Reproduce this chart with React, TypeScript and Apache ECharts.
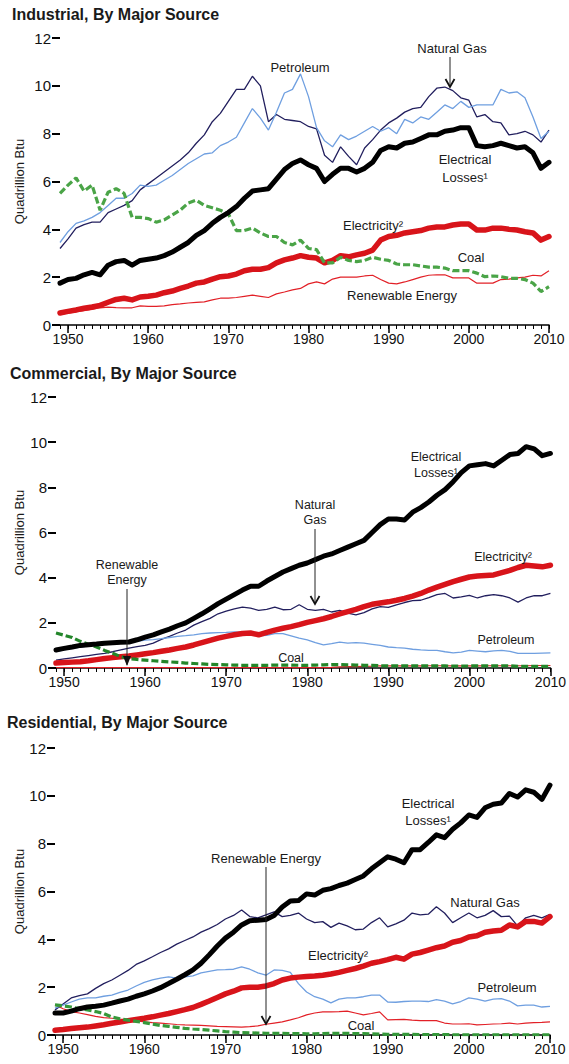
import React, { useEffect, useRef } from "react";
import * as echarts from "echarts";

// ---------- categories ----------
const years: string[] = [];
for (let y = 1949; y <= 2010; y++) years.push(String(y));
const yTicks = [0, 2, 4, 6, 8, 10, 12];

// ---------- Industrial ----------
const indNaturalGas = [
  3.2, 3.6, 4.05, 4.2, 4.3, 4.3, 4.7, 4.85, 5.0, 5.2,
  5.65, 5.9, 6.15, 6.4, 6.65, 6.9, 7.2, 7.6, 7.95, 8.5,
  8.85, 9.35, 9.85, 9.85, 10.4, 10.0, 8.5, 8.8, 8.6, 8.55,
  8.5, 8.3, 8.2, 7.1, 6.8, 7.45, 7.05, 6.7, 7.4, 7.75,
  8.15, 8.45, 8.65, 8.9, 9.05, 9.1, 9.55, 9.9, 9.95, 9.8,
  9.5, 9.4, 8.7, 8.8, 8.5, 8.45, 7.95, 8.0, 8.1, 7.95,
  7.65, 8.15,
];
const indPetroleum = [
  3.45, 3.9, 4.25, 4.35, 4.5, 4.7, 5.0, 5.3, 5.3, 5.5,
  5.85, 5.8, 5.85, 6.05, 6.25, 6.5, 6.75, 6.95, 7.15, 7.2,
  7.5, 7.65, 7.85, 8.45, 9.05, 8.65, 8.15, 8.9, 9.7, 9.85,
  10.5, 9.55, 8.25, 7.7, 7.45, 7.95, 7.75, 7.9, 8.1, 8.3,
  8.1, 8.25, 8.0, 8.6, 8.45, 8.7, 8.6, 8.9, 9.2, 9.05,
  9.35, 9.1, 9.2, 9.2, 9.2, 9.85, 9.7, 9.75, 9.5, 8.7,
  7.8, 8.1,
];
const indLosses = [
  1.75, 1.9, 1.95, 2.1, 2.2, 2.1, 2.5, 2.65, 2.7, 2.5,
  2.7, 2.75, 2.8, 2.9, 3.05, 3.25, 3.45, 3.75, 3.95, 4.25,
  4.5, 4.7, 4.95, 5.3, 5.6, 5.65, 5.7, 6.1, 6.5, 6.75,
  6.9, 6.7, 6.55, 6.0, 6.3, 6.55, 6.55, 6.4, 6.55, 6.8,
  7.3, 7.45, 7.4, 7.6, 7.65, 7.8, 7.95, 7.95, 8.1, 8.15,
  8.25, 8.25, 7.5, 7.45, 7.5, 7.6, 7.5, 7.4, 7.45, 7.2,
  6.55, 6.8,
];
const indElectricity = [
  0.5, 0.57, 0.63, 0.7, 0.75, 0.82, 0.95, 1.07, 1.12, 1.05,
  1.17, 1.2, 1.25, 1.35, 1.42, 1.53, 1.63, 1.75, 1.8, 1.92,
  2.02, 2.05, 2.13, 2.27, 2.33, 2.33, 2.4, 2.6, 2.72, 2.8,
  2.9, 2.83, 2.8, 2.6, 2.7, 2.9, 2.85, 2.93, 3.0, 3.13,
  3.55, 3.7, 3.75, 3.85, 3.9, 3.95, 4.05, 4.1, 4.1, 4.18,
  4.22, 4.22, 3.97, 3.97, 4.05, 4.05, 4.0, 3.97, 3.9, 3.85,
  3.55, 3.7,
];
const indCoal = [
  5.5, 5.85, 6.15, 5.6, 5.85, 4.8, 5.55, 5.7, 5.5, 4.5,
  4.5, 4.45, 4.3, 4.4, 4.6, 4.8, 5.1, 5.22, 5.0, 4.9,
  4.8, 4.65, 3.95, 3.95, 4.05, 3.85, 3.7, 3.7, 3.45, 3.35,
  3.55, 3.2, 3.15, 2.6, 2.6, 2.83, 2.7, 2.65, 2.7, 2.83,
  2.75, 2.7, 2.55, 2.52, 2.52, 2.47, 2.42, 2.42, 2.38, 2.27,
  2.27, 2.27, 2.17, 2.02, 2.05, 2.02, 1.95, 1.95, 1.9, 1.75,
  1.4, 1.6,
];
const indRenewable = [
  0.45, 0.5, 0.55, 0.6, 0.65, 0.72, 0.75, 0.73, 0.72, 0.72,
  0.8, 0.78, 0.78, 0.8, 0.85, 0.88, 0.92, 0.95, 0.97, 1.05,
  1.12, 1.12, 1.15, 1.2, 1.25, 1.2, 1.15, 1.3, 1.38, 1.47,
  1.53, 1.72, 1.8, 1.72, 1.92, 2.0, 2.0, 2.0, 2.05, 2.08,
  1.9, 1.75, 1.72, 1.8, 1.9, 2.0, 2.08, 2.1, 2.1, 1.97,
  1.97, 1.97, 1.75, 1.75, 1.75, 1.9, 1.92, 1.97, 2.0, 2.08,
  2.05, 2.27,
];

// ---------- Commercial ----------
const comLosses = [
  0.8, 0.87, 0.93, 1.0, 1.03, 1.06, 1.1, 1.12, 1.14, 1.15,
  1.25, 1.37, 1.47, 1.6, 1.72, 1.87, 2.0, 2.2, 2.4, 2.62,
  2.85, 3.05, 3.25, 3.45, 3.62, 3.62, 3.85, 4.05, 4.25, 4.4,
  4.55, 4.65, 4.8, 4.95, 5.05, 5.2, 5.35, 5.5, 5.65, 6.0,
  6.35, 6.6, 6.6, 6.55, 6.9, 7.1, 7.35, 7.65, 7.9, 8.25,
  8.65, 8.95, 9.0, 9.05, 8.95, 9.2, 9.45, 9.5, 9.8, 9.7,
  9.4, 9.5,
];
const comElectricity = [
  0.22, 0.24, 0.26, 0.28, 0.32, 0.37, 0.42, 0.46, 0.5, 0.53,
  0.58, 0.63, 0.68, 0.74, 0.8, 0.87, 0.93, 1.02, 1.12, 1.22,
  1.32, 1.4, 1.47, 1.53, 1.55, 1.47, 1.58, 1.68, 1.76, 1.83,
  1.92, 2.02, 2.1, 2.18, 2.28, 2.4, 2.5, 2.6, 2.72, 2.82,
  2.88, 2.93, 3.0, 3.08, 3.18, 3.3, 3.45, 3.58, 3.7, 3.82,
  3.93, 4.03, 4.07, 4.1, 4.12, 4.22, 4.32, 4.45, 4.55, 4.52,
  4.48, 4.55,
];
const comNaturalGas = [
  0.35, 0.4, 0.45, 0.5, 0.55, 0.6, 0.65, 0.72, 0.8, 0.88,
  0.95, 1.0, 1.1, 1.27, 1.4, 1.55, 1.68, 1.9, 2.05, 2.2,
  2.4, 2.52, 2.62, 2.7, 2.65, 2.55, 2.6, 2.7, 2.58, 2.6,
  2.8, 2.6, 2.55, 2.6, 2.48, 2.55, 2.43, 2.35, 2.45, 2.62,
  2.72, 2.68, 2.8, 2.9, 2.98, 3.0, 3.12, 3.25, 3.3, 3.1,
  3.15, 3.22, 3.1, 3.2, 3.25, 3.2, 3.1, 2.92, 3.1, 3.2,
  3.2, 3.3,
];
const comPetroleum = [
  0.72, 0.8, 0.87, 0.93, 0.98, 1.03, 1.08, 1.12, 1.13, 1.15,
  1.18, 1.23, 1.26, 1.3, 1.35, 1.4, 1.43, 1.47, 1.52, 1.55,
  1.57, 1.58, 1.6, 1.58, 1.52, 1.42, 1.45, 1.52, 1.52, 1.42,
  1.32, 1.25, 1.12, 1.02, 1.08, 1.15, 1.1, 1.12, 1.1, 1.05,
  1.0, 0.93, 0.9, 0.88, 0.83, 0.8, 0.78, 0.78, 0.72, 0.67,
  0.7, 0.78, 0.75, 0.72, 0.76, 0.78, 0.74, 0.65, 0.65, 0.65,
  0.66, 0.67,
];
const comCoal = [
  1.55, 1.45, 1.35, 1.18, 1.05, 0.93, 0.78, 0.65, 0.5, 0.42,
  0.38, 0.35, 0.32, 0.29, 0.27, 0.25, 0.22, 0.2, 0.18, 0.16,
  0.15, 0.14, 0.13, 0.12, 0.12, 0.12, 0.12, 0.13, 0.13, 0.13,
  0.12, 0.12, 0.13, 0.14, 0.15, 0.15, 0.14, 0.13, 0.12, 0.12,
  0.1, 0.09, 0.09, 0.09, 0.09, 0.09, 0.09, 0.09, 0.09, 0.08,
  0.08, 0.09, 0.09, 0.09, 0.09, 0.1, 0.1, 0.07, 0.07, 0.07,
  0.07, 0.07,
];
const comRenewable = [
  0.02, 0.02, 0.02, 0.02, 0.02, 0.02, 0.02, 0.02, 0.02, 0.02,
  0.02, 0.02, 0.02, 0.02, 0.02, 0.02, 0.02, 0.02, 0.02, 0.02,
  0.02, 0.02, 0.02, 0.02, 0.02, 0.02, 0.02, 0.02, 0.02, 0.02,
  0.02, 0.02, 0.02, 0.02, 0.03, 0.05, 0.06, 0.06, 0.07, 0.08,
  0.1, 0.09, 0.09, 0.09, 0.09, 0.09, 0.1, 0.1, 0.1, 0.09,
  0.09, 0.1, 0.09, 0.1, 0.1, 0.1, 0.1, 0.1, 0.1, 0.11,
  0.11, 0.11,
];

// ---------- Residential ----------
const resLosses = [
  0.92, 0.92, 1.0, 1.1, 1.17, 1.2, 1.25, 1.33, 1.42, 1.5,
  1.62, 1.72, 1.84, 1.98, 2.15, 2.33, 2.52, 2.72, 3.0, 3.35,
  3.72, 4.05, 4.3, 4.6, 4.78, 4.8, 4.83, 5.0, 5.35, 5.6,
  5.62, 5.9, 5.85, 6.05, 6.12, 6.25, 6.35, 6.5, 6.65, 6.95,
  7.2, 7.45, 7.35, 7.2, 7.75, 7.75, 8.05, 8.37, 8.25, 8.6,
  8.87, 9.2, 9.1, 9.5, 9.65, 9.7, 10.1, 9.95, 10.25, 10.15,
  9.85, 10.45,
];
const resNaturalGas = [
  1.05, 1.3, 1.55, 1.65, 1.72, 1.95, 2.15, 2.3, 2.5, 2.7,
  2.95, 3.1, 3.27, 3.45, 3.6, 3.8, 3.95, 4.1, 4.3, 4.45,
  4.62, 4.85, 5.0, 5.23, 4.95, 4.9, 5.02, 5.15, 4.95, 5.0,
  5.1, 4.85, 4.7, 4.74, 4.5, 4.68, 4.56, 4.4, 4.43, 4.7,
  4.9, 4.52, 4.65, 4.8, 5.1, 5.02, 5.05, 5.36, 5.1, 4.7,
  4.9, 5.1, 4.9, 5.0, 5.2, 4.95, 4.97, 4.56, 4.9, 5.0,
  4.9, 5.05,
];
const resElectricity = [
  0.2, 0.23, 0.27, 0.3, 0.33, 0.38, 0.43, 0.49, 0.54, 0.6,
  0.65, 0.7, 0.76, 0.83, 0.9, 0.98, 1.06, 1.15, 1.28, 1.42,
  1.57, 1.72, 1.83, 1.97, 2.0, 2.0, 2.05, 2.15, 2.3, 2.38,
  2.42, 2.45, 2.47, 2.5, 2.55, 2.62, 2.7, 2.78, 2.88, 3.0,
  3.07, 3.15, 3.25, 3.17, 3.38, 3.45, 3.55, 3.65, 3.72, 3.88,
  3.95, 4.1, 4.15, 4.3, 4.35, 4.38, 4.6, 4.52, 4.75, 4.75,
  4.68, 4.95,
];
const resPetroleum = [
  1.12, 1.25, 1.38, 1.5, 1.55, 1.55, 1.62, 1.67, 1.78, 1.88,
  2.05, 2.2, 2.3, 2.38, 2.43, 2.38, 2.43, 2.47, 2.6, 2.66,
  2.72, 2.73, 2.75, 2.85, 2.75, 2.6, 2.5, 2.72, 2.7, 2.62,
  2.15, 1.8, 1.6, 1.5, 1.34, 1.5, 1.55, 1.55, 1.6, 1.67,
  1.67, 1.38, 1.37, 1.4, 1.42, 1.42, 1.4, 1.48, 1.42, 1.3,
  1.4, 1.55, 1.5, 1.42, 1.5, 1.52, 1.42, 1.22, 1.25, 1.25,
  1.17, 1.2,
];
const resCoal = [
  1.26, 1.22, 1.17, 1.1, 1.05, 0.98, 0.9, 0.75, 0.68, 0.62,
  0.57, 0.52, 0.46, 0.4, 0.36, 0.32, 0.28, 0.25, 0.23, 0.2,
  0.17, 0.14, 0.12, 0.1, 0.09, 0.08, 0.07, 0.07, 0.07, 0.06,
  0.06, 0.05, 0.05, 0.06, 0.07, 0.07, 0.07, 0.06, 0.06, 0.05,
  0.04, 0.03, 0.03, 0.03, 0.03, 0.02, 0.02, 0.02, 0.02, 0.01,
  0.01, 0.01, 0.01, 0.01, 0.01, 0.01, 0.01, 0.01, 0.01, 0.01,
  0.01, 0.01,
];
const resRenewable = [
  1.26, 1.1, 0.98, 0.92, 0.85, 0.78, 0.73, 0.7, 0.66, 0.63,
  0.6, 0.55, 0.52, 0.5, 0.47, 0.44, 0.42, 0.41, 0.4, 0.38,
  0.36, 0.35, 0.34, 0.33, 0.35, 0.38, 0.45, 0.5, 0.55, 0.63,
  0.72, 0.84, 0.92, 0.97, 0.97, 0.98, 1.0, 0.92, 0.84, 0.9,
  0.97, 0.63, 0.64, 0.65, 0.62, 0.6, 0.6, 0.6, 0.5, 0.46,
  0.46, 0.47, 0.42, 0.44, 0.46, 0.47, 0.5, 0.46, 0.5, 0.52,
  0.53, 0.55,
];

// ---------- styling / layout ----------
const FONT = '"Liberation Sans", Arial, Helvetica, sans-serif';
const C_GAS = "#221f5e";
const C_PET = "#6f9fe0";
const C_LOSS = "#000000";
const C_ELEC = "#d8141a";
const C_REN = "#e22027";
const C_COAL = "#3c9a3c";

const grids = [
  { left: 60, top: 38, width: 489, height: 287 },
  { left: 56, top: 397, width: 502, height: 271 },
  { left: 55, top: 748, width: 495, height: 287 },
];

const panels = [
  { title: "Industrial, By Major Source", tx: 12, ty: 14,
    gas: indNaturalGas, pet: indPetroleum, loss: indLosses, elec: indElectricity, coal: indCoal, ren: indRenewable, coalColor: "#4aa447" },
  { title: "Commercial, By Major Source", tx: 10, ty: 373,
    gas: comNaturalGas, pet: comPetroleum, loss: comLosses, elec: comElectricity, coal: comCoal, ren: comRenewable, coalColor: "#23862a" },
  { title: "Residential, By Major Source", tx: 7, ty: 722,
    gas: resNaturalGas, pet: resPetroleum, loss: resLosses, elec: resElectricity, coal: resCoal, ren: resRenewable, coalColor: "#35983a" },
];

function label(text: string, x: number, y: number, size = 13, bold = false, align = "center") {
  return {
    type: "text", x, y, z: 100,
    style: {
      text, font: `${bold ? "bold " : ""}${size}px ${FONT}`, fill: "#1a1a1a",
      align, verticalAlign: "middle", textAlign: align, textVerticalAlign: "middle",
    },
  };
}
function arrow(x: number, y1: number, y2: number, filled: boolean) {
  const head = filled
    ? { type: "polygon", z: 100, shape: { points: [[x - 4, y2 - 10], [x + 4, y2 - 10], [x, y2]] }, style: { fill: "#111" } }
    : { type: "polyline", z: 100, shape: { points: [[x - 4.5, y2 - 8], [x, y2], [x + 4.5, y2 - 8]] }, style: { stroke: "#111", lineWidth: 1.8, fill: null } };
  return [
    { type: "line", z: 100, shape: { x1: x, y1, x2: x, y2: y2 - 1 }, style: { stroke: "#222", lineWidth: 1 } },
    head,
  ];
}

function buildOption() {
  const xAxis: any[] = [];
  const yAxis: any[] = [];
  const series: any[] = [];
  grids.forEach((_, i) => {
    xAxis.push({
      type: "category", gridIndex: i, data: years, boundaryGap: false,
      axisLine: { lineStyle: { color: "#000", width: 1.5 } },
      axisTick: { interval: 0, length: 4, lineStyle: { color: "#000", width: 1 } },
      axisLabel: {
        interval: (_i: number, v: string) => Number(v) % 10 === 0,
        fontSize: 14, color: "#111", margin: 7, fontFamily: FONT,
      },
      splitLine: { show: false },
    });
  });
  grids.forEach((_, i) => {
    xAxis.push({
      type: "category", gridIndex: i, data: years, boundaryGap: false, position: "bottom",
      axisLine: { show: false },
      axisTick: { interval: (_i: number, v: string) => Number(v) % 10 === 0, length: 8, lineStyle: { color: "#000", width: 1.5 } },
      axisLabel: { show: false },
      splitLine: { show: false },
    });
  });
  grids.forEach((_, i) => {
    yAxis.push({
      type: "value", gridIndex: i, min: yTicks[0], max: yTicks[yTicks.length - 1], interval: 2,
      axisLine: { show: false },
      axisTick: { show: true, length: 8, lineStyle: { color: "#000", width: 2 } },
      axisLabel: { fontSize: 15, color: "#111", margin: 9, fontFamily: FONT },
      splitLine: { show: false },
    });
  });
  panels.forEach((p, i) => {
    const base = { type: "line", xAxisIndex: i, yAxisIndex: i, symbol: "none", showSymbol: false, silent: true };
    series.push({ ...base, name: "Renewable Energy", data: p.ren, lineStyle: { color: C_REN, width: 1.2 } });
    series.push({ ...base, name: "Natural Gas", data: p.gas, lineStyle: { color: C_GAS, width: 1.3 } });
    series.push({ ...base, name: "Petroleum", data: p.pet, lineStyle: { color: C_PET, width: 1.3 } });
    series.push({ ...base, name: "Electricity", data: p.elec, lineStyle: { color: C_ELEC, width: 5.5, join: "round", cap: "round" } });
    series.push({ ...base, name: "Coal", data: p.coal, lineStyle: { color: p.coalColor, width: 3.2, type: [7, 3] } });
    series.push({ ...base, name: "Electrical Losses", data: p.loss, lineStyle: { color: C_LOSS, width: 5, join: "round", cap: "round" } });
  });

  const elements: any[] = [];
  panels.forEach((p, i) => {
    elements.push(label(p.title, p.tx, p.ty, 16, true, "left"));
    const g = grids[i];
    elements.push({
      type: "text", x: 19, y: g.top + g.height / 2, rotation: Math.PI / 2, z: 100,
      style: { text: "Quadrillion Btu", font: `13px ${FONT}`, fill: "#1a1a1a",
        align: "center", verticalAlign: "middle", textAlign: "center", textVerticalAlign: "middle" },
    });
  });
  // Industrial annotations
  elements.push(label("Petroleum", 300, 67));
  elements.push(label("Natural Gas", 452, 48));
  elements.push(...arrow(450, 57, 87, false));
  elements.push(label("Electrical", 465, 159));
  elements.push(label("Losses\u00b9", 465, 177));
  elements.push(label("Electricity\u00b2", 373, 225));
  elements.push(label("Coal", 471, 257));
  elements.push(label("Renewable Energy", 402, 295));
  // Commercial annotations
  elements.push(label("Electrical", 436, 457, 12.5));
  elements.push(label("Losses\u00b9", 436, 473, 12.5));
  elements.push(label("Natural", 315, 505, 12.5));
  elements.push(label("Gas", 315, 520, 12.5));
  elements.push(...arrow(315, 529, 604, false));
  elements.push(label("Renewable", 127, 565, 12.5));
  elements.push(label("Energy", 127, 580, 12.5));
  elements.push(...arrow(127, 589, 666, true));
  elements.push(label("Electricity\u00b2", 503, 557, 12.5));
  elements.push(label("Petroleum", 506, 640, 12.5));
  elements.push(label("Coal", 291, 658, 12.5));
  // Residential annotations
  elements.push(label("Renewable Energy", 266, 858));
  elements.push(...arrow(266, 867, 1024, false));
  elements.push(label("Electrical", 428, 803));
  elements.push(label("Losses\u00b9", 428, 820));
  elements.push(label("Natural Gas", 485, 902));
  elements.push(label("Electricity\u00b2", 338, 955));
  elements.push(label("Petroleum", 507, 987));
  elements.push(label("Coal", 361, 1025));

  return {
    animation: false,
    backgroundColor: "#ffffff",
    textStyle: { fontFamily: FONT },
    grid: grids.map((g) => ({ ...g, containLabel: false })),
    xAxis, yAxis, series,
    graphic: { elements },
  };
}

export default function App() {
  const ref = useRef<HTMLDivElement>(null);
  useEffect(() => {
    if (!ref.current) return;
    const chart = echarts.init(ref.current, null, { renderer: "svg" });
    chart.setOption(buildOption() as any);
    return () => chart.dispose();
  }, []);
  return (
    <div
      ref={ref}
      style={{ position: "absolute", left: 0, top: 0, width: 569, height: 1064, background: "#fff" }}
    />
  );
}
